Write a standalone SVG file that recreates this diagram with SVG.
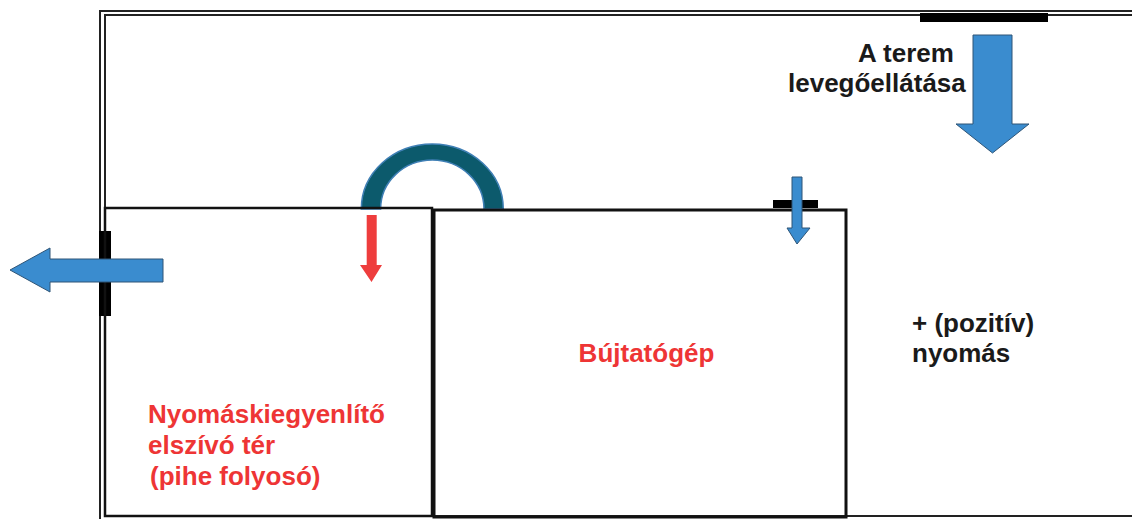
<svg xmlns="http://www.w3.org/2000/svg" width="1132" height="519" viewBox="0 0 1132 519">
<style>
.wall{fill:none;stroke:#222;stroke-width:2}
.box{fill:none;stroke:#111}
.bar{fill:#000}
.blue{fill:#3a8ccf;stroke:#2f5577;stroke-width:1}
.red{fill:#ee3d3d}
.t{font-family:"Liberation Sans",Arial,sans-serif;font-weight:bold;font-size:26px}
.tk{fill:#1a1a1a}
.tr{fill:#ee3535}
</style>
<rect width="1132" height="519" fill="#fff"/>
<g id="room">
<path class="wall" d="M1132,11 H100 V519"/>
<path class="wall" d="M1132,15 H105 V516 H1132"/>
<rect class="bar" x="920" y="13" width="128" height="9"/>
<rect class="bar" x="99" y="231" width="12" height="85"/>
<text class="t tk" x="858" y="61.5">A terem</text>
<text class="t tk" x="788" y="91.5">levegőellátása</text>
<text class="t tk" x="912" y="331.5">+ (pozitív)</text>
<text class="t tk" x="912" y="361.5">nyomás</text>
</g>
<g id="arc">
<path d="M361.3,209 A71,65 0 0 1 503.3,209 L484,209 A51.7,49 0 0 0 380.6,209 Z" fill="#0c5a6c" stroke="#3f7fb5" stroke-width="1.5"/>
</g>
<g id="pihe">
<rect class="box" x="105" y="208" width="327" height="308" stroke-width="2.5"/>
<text class="t tr" x="148" y="423">Nyomáskiegyenlítő</text>
<text class="t tr" x="148" y="454">elszívó tér</text>
<text class="t tr" x="150" y="485">(pihe folyosó)</text>
</g>
<g id="bujtatogep">
<rect class="box" x="434" y="210" width="412" height="307" stroke-width="3"/>
<rect class="bar" x="773" y="200" width="45" height="8"/>
<text class="t tr" x="646.5" y="361.5" text-anchor="middle">Bújtatógép</text>
</g>
<g id="connectors">
<polygon class="blue" points="973,35 1012,35 1012,124 1029,124 992.5,153 956,124 973,124"/>
<polygon class="blue" points="163,259 163,282 50,282 50,292 10,270 50,248 50,259"/>
<polygon class="blue" points="792,177 802,177 802,228 810,228 797,244 787,228 792,228"/>
<polygon class="red" points="366.7,215 376.7,215 376.7,265 382,265 371.5,282 360,265 366.7,265"/>
</g>
</svg>
